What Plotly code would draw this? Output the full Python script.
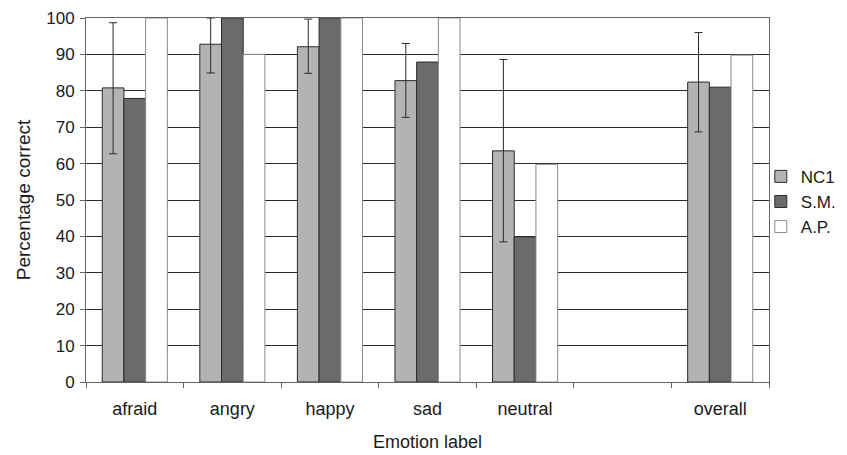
import plotly.graph_objects as go

categories = ["afraid", "angry", "happy", "sad", "neutral", " ", "overall"]
nc1 = [80.8, 92.8, 92.1, 82.8, 63.5, None, 82.4]
nc1_err_up = [17.9, 7.2, 7.6, 10.2, 25.1, None, 13.6]
nc1_err_down = [18.1, 7.9, 7.3, 10.1, 25.0, None, 13.7]
sm = [77.9, 100, 100, 87.9, 39.8, None, 81.0]
ap = [100, 90, 100, 100, 59.8, None, 89.8]

FONT = "Liberation Sans, Arial, sans-serif"
edge = dict(color="#2b2b2b", width=1)

fig = go.Figure()
fig.add_trace(go.Bar(
    name="NC1", x=categories, y=nc1,
    marker=dict(color="#b3b3b3", line=edge),
    error_y=dict(type="data", symmetric=False, array=nc1_err_up,
                 arrayminus=nc1_err_down, color="#2b2b2b", thickness=1, width=4),
))
fig.add_trace(go.Bar(
    name="S.M.", x=categories, y=sm,
    marker=dict(color="#6b6b6b", line=edge),
))
fig.add_trace(go.Bar(
    name="A.P.", x=categories, y=ap,
    marker=dict(color="#ffffff", line=dict(color="#8a8a8a", width=1)),
))

# the page body adds an 8px margin, so the figure is 8px smaller and margins shifted
fig.update_layout(
    width=839, height=447,
    margin=dict(l=78, r=78, t=10, b=73, autoexpand=False),
    barmode="group", bargap=0.333, bargroupgap=0,
    plot_bgcolor="white", paper_bgcolor="white",
    font=dict(family=FONT, size=17, color="#1a1a1a"),
    legend=dict(x=0.988, y=0.495, xanchor="left", yanchor="middle",
                font=dict(size=17), tracegroupgap=0, itemwidth=30,
                bgcolor="rgba(0,0,0,0)"),
    showlegend=True,
)
fig.update_xaxes(
    type="category", categoryorder="array", categoryarray=categories,
    showline=True, linecolor="#666", linewidth=1, mirror=True,
    ticks="outside", tickson="boundaries", ticklen=5, tickcolor="#666",
    showgrid=False, automargin=False, ticklabelstandoff=10,
    title=dict(text="Emotion label", font=dict(size=18), standoff=17),
    tickfont=dict(size=18),
)
fig.update_yaxes(
    range=[0, 100], dtick=10,
    showline=True, linecolor="#666", linewidth=1, mirror=True,
    ticks="outside", ticklen=5, tickcolor="#666",
    showgrid=True, gridcolor="#2b2b2b", gridwidth=1, automargin=False,
    ticklabelstandoff=2,
    title=dict(text="Percentage correct", font=dict(size=19), standoff=10),
    tickfont=dict(size=17),
)

fig.write_html("out.html")
